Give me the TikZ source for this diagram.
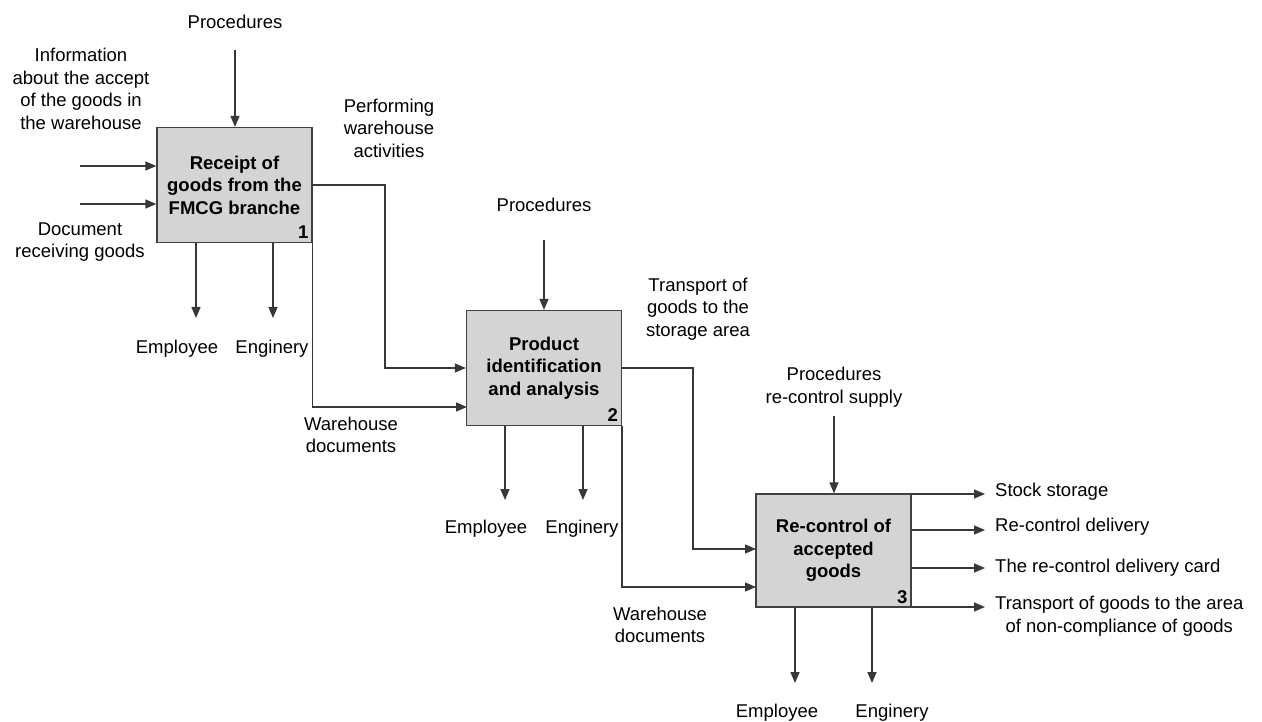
\documentclass[tikz,border=0pt]{standalone}
\usepackage{fontspec}
\setmainfont{Liberation Sans}
\usetikzlibrary{arrows.meta,positioning}

\begin{document}
\begin{tikzpicture}
  [x=1pt,y=-1pt,
 func/.style={
  rectangle,
  draw=black!75,
  line width=1.3pt, % border
  fill=black!17,
  minimum width=155pt,
  minimum height=115pt,
  inner sep=0pt,
  align=center,
  font=\fontsize{18.5}{22.5}\selectfont\bfseries},
 lbl/.style={
  align=center,
  inner sep=0pt,
  font=\fontsize{18.5}{22.5}\selectfont},
 num/.style={
  anchor=south east,
  inner sep=4pt,
  font=\fontsize{18.5}{22}\selectfont\bfseries},
 tip/.style={draw=black!78,line width=1.4pt,-{Triangle[length=11pt,width=9pt]}}]
\useasboundingbox (0,0) rectangle (1262,722);
% activities
\node (receipt) [func] at (234.5,185) {Receipt of\\goods from the\\FMCG branche};
\node (ident) [func] at (544,368) {Product\\identification\\and analysis};
\node (recontrol) [func, minimum height=113pt] at (833.5,550.5) {Re-control of\\accepted\\goods};
\node [num] at (receipt.south east) {1};
\node [num] at (ident.south east) {2};
\node [num] at (recontrol.south east) {3};
% labels
\node (proc1) [lbl] at (235,22) {Procedures};
\node (info) [lbl] at (81,89) {Information\\about the accept\\of the goods in\\the warehouse};
\node (docrec) [lbl] at (80,242) {Document\\receiving goods};
\node (perform) [lbl] at (389,128) {Performing\\warehouse\\activities};
\node (emp1) [lbl] at (177,349) {Employee};
\node (eng1) [lbl] at (272,349) {Enginery};
\node (whdoc1) [lbl] at (351,435) {Warehouse\\documents};
\node (proc2) [lbl] at (544,205) {Procedures};
\node (transp) [lbl] at (698,309) {Transport of\\goods to the\\storage area};
\node (emp2) [lbl] at (486,529) {Employee};
\node (eng2) [lbl] at (582,529) {Enginery};
\node (whdoc2) [lbl] at (660,625) {Warehouse\\documents};
\node (proc3) [lbl] at (834,387) {Procedures\\re-control supply};
\node (stock) [lbl,anchor=west] at (995,492) {Stock storage};
\node (redeliv) [lbl,anchor=west] at (995,527) {Re-control delivery};
\node (card) [lbl,anchor=west] at (995,568) {The re-control delivery card};
\node (noncomp) [lbl,anchor=west] at (995,616) {Transport of goods to the area\\of non-compliance of goods};
\node (emp3) [lbl] at (777,713) {Employee};
\node (eng3) [lbl] at (892,713) {Enginery};
% free ends and bends
\coordinate (in1a) at (80,166);
\coordinate (in1b) at (80,204);
\coordinate (ctl1) at (235,50);
\coordinate (m1a) at (196,318);
\coordinate (m1b) at (273,318);
\coordinate (turn1) at (385,300);
\coordinate (in2b) at (467,407);
\coordinate (ctl2) at (544,240);
\coordinate (m2a) at (505,500);
\coordinate (m2b) at (583,500);
\coordinate (turn2) at (693,450);
\coordinate (in3a) at (756,549);
\coordinate (in3b) at (756,587);
\coordinate (ctl3) at (834,416);
\coordinate (m3a) at (795,683);
\coordinate (m3b) at (872,683);
\coordinate (out1) at (985,494);
\coordinate (out2) at (985,530);
\coordinate (out3) at (985,568);
\coordinate (out4) at (985,607);
% connectors
\draw[tip] (in1a) -- (in1a -| receipt.west);
\draw[tip] (in1b) -- (in1b -| receipt.west);
\draw[tip] (ctl1) -- (ctl1 |- receipt.north);
\draw[tip] (m1a |- receipt.south) -- (m1a);
\draw[tip] (m1b |- receipt.south) -- (m1b);
\draw[tip] (receipt.east) -| (turn1) |- (ident.west);
\draw[tip] (receipt.south east) |- (in2b);
\draw[tip] (ctl2) -- (ident.north);
\draw[tip] (m2a |- ident.south) -- (m2a);
\draw[tip] (m2b |- ident.south) -- (m2b);
\draw[tip] (ident.east) -| (turn2) |- (in3a);
\draw[tip] (ident.south east) |- (in3b);
\draw[tip] (ctl3) -- (ctl3 |- recontrol.north);
\draw[tip] (m3a |- recontrol.south) -- (m3a);
\draw[tip] (m3b |- recontrol.south) -- (m3b);
\draw[tip] (out1 -| recontrol.east) -- (out1);
\draw[tip] (out2 -| recontrol.east) -- (out2);
\draw[tip] (out3 -| recontrol.east) -- (out3);
\draw[tip] (out4 -| recontrol.east) -- (out4);
\end{tikzpicture}
\end{document}
